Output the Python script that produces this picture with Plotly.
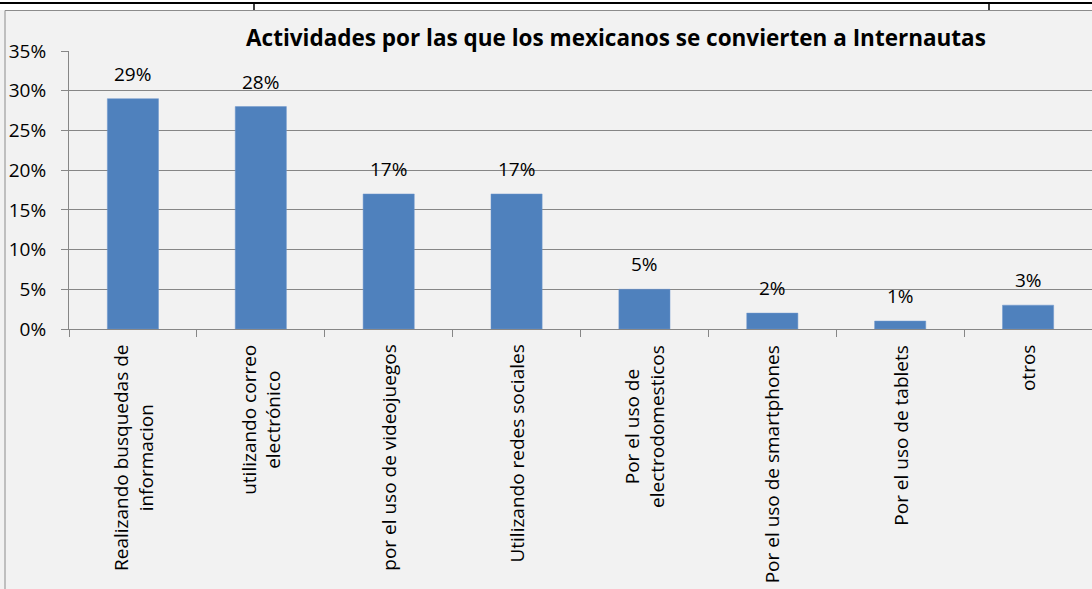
import plotly.graph_objects as go

categories = [
    "Realizando busquedas de<br>informacion",
    "utilizando correo<br>electrónico",
    "por el uso de videojuegos",
    "Utilizando redes sociales",
    "Por el uso de<br>electrodomesticos",
    "Por el uso de smartphones",
    "Por el uso de tablets",
    "otros",
]
values = [29, 28, 17, 17, 5, 2, 1, 3]
ytick_vals = [0, 5, 10, 15, 20, 25, 30, 35]
ytick_text = ["0%", "5%", "10%", "15%", "20%", "25%", "30%", "35%"]
title_text = "Actividades por las que los mexicanos se convierten a Internautas"

W, H = 1092, 589
ML, MR, MT, MB = 69, 0, 51, 260
PW = W - ML - MR
PH = H - MT - MB

def px_x(px):
    return (px - ML) / PW

def px_y(py):
    return (H - MB - py) / PH

FONT = "Open Sans"
FS = 19
fig = go.Figure()
fig.add_trace(go.Bar(
    x=categories, y=values,
    marker=dict(color="#4f81bd", line=dict(color="#6f97cc", width=0.5)),
    hoverinfo="x+y",
))

annotations = []
for c, v in zip(categories, values):
    annotations.append(dict(
        x=c, y=v, xref="x", yref="y", text=f"{v}%", showarrow=False,
        yanchor="bottom", yshift=10, font=dict(family=FONT, size=FS, color="black"),
    ))
    annotations.append(dict(
        x=c, y=px_y(343), xref="x", yref="paper", text=c, showarrow=False,
        textangle=-90, yanchor="top", xanchor="center", align="center",
        font=dict(family=FONT, size=FS, color="black"),
    ))

shapes = [
    # white top strip
    dict(type="rect", xref="paper", yref="paper", x0=px_x(-2), x1=px_x(W + 2),
         y0=px_y(10), y1=px_y(-2), fillcolor="white", line=dict(width=0), layer="above"),
    dict(type="line", xref="paper", yref="paper", x0=px_x(-2), x1=px_x(W + 2),
         y0=px_y(3), y1=px_y(3), line=dict(color="black", width=2), layer="above"),
    dict(type="line", xref="paper", yref="paper", x0=px_x(254), x1=px_x(254),
         y0=px_y(3), y1=px_y(10), line=dict(color="black", width=1.5), layer="above"),
    dict(type="line", xref="paper", yref="paper", x0=px_x(989), x1=px_x(989),
         y0=px_y(3), y1=px_y(10), line=dict(color="black", width=1.5), layer="above"),
    # chart border
    dict(type="line", xref="paper", yref="paper", x0=px_x(5), x1=px_x(W + 2),
         y0=px_y(10.5), y1=px_y(10.5), line=dict(color="#8c8c8c", width=1), layer="above"),
    dict(type="line", xref="paper", yref="paper", x0=px_x(5), x1=px_x(5),
         y0=px_y(10.5), y1=px_y(H + 2), line=dict(color="#8c8c8c", width=1), layer="above"),
]

fig.update_layout(
    width=W, height=H,
    margin=dict(l=ML, r=MR, t=MT, b=MB, pad=0),
    paper_bgcolor="#f2f2f2", plot_bgcolor="#f2f2f2",
    showlegend=False,
    bargap=0.6,
    title=dict(text=f"<b>{title_text}</b>", x=616 / W, y=1 - 38 / H,
               xanchor="center", yanchor="middle", xref="container", yref="container",
               font=dict(family=FONT, size=22.5, color="black")),
    xaxis=dict(showticklabels=False, ticks="outside", tickson="boundaries", ticklen=7,
               tickcolor="#868686", showline=True, linecolor="#868686", linewidth=1,
               showgrid=False, zeroline=False),
    yaxis=dict(range=[0, 35], tickvals=ytick_vals, ticktext=ytick_text,
               ticks="outside", ticklen=7, tickcolor="#868686",
               showline=True, linecolor="#868686", linewidth=1,
               showgrid=True, gridcolor="#868686", gridwidth=1, zeroline=False,
               ticklabelstandoff=11,
               tickfont=dict(family=FONT, size=FS, color="black")),
    annotations=annotations,
    shapes=shapes,
)

fig.write_html("out.html", config={"displayModeBar": False},
               post_script="document.body.style.margin='0';")
